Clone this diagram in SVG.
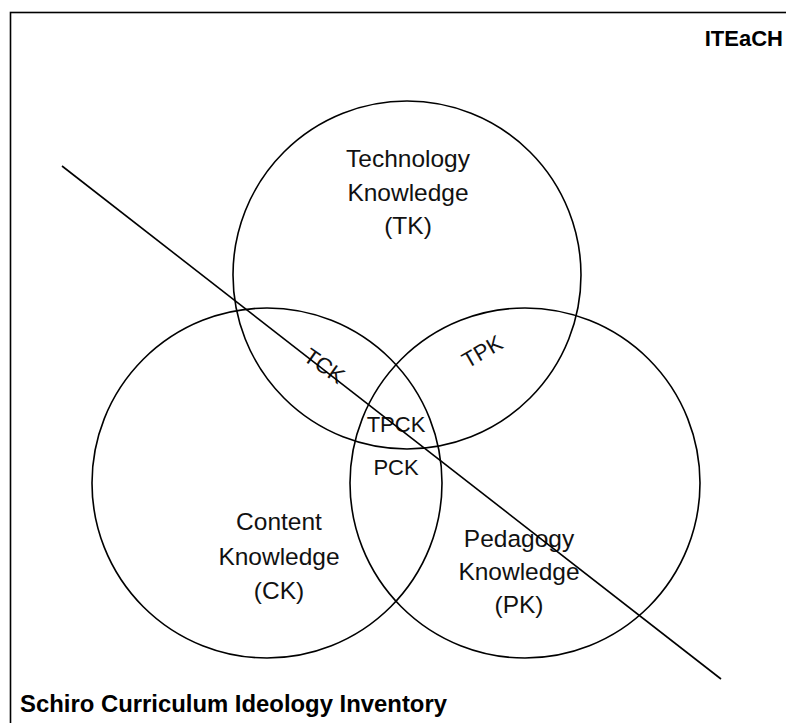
<svg xmlns="http://www.w3.org/2000/svg" width="786" height="723" viewBox="0 0 786 723">
<style>
.c{fill:none;stroke:#000;stroke-width:1.6}
.t{font-family:"Liberation Sans",Arial,sans-serif;font-size:24.5px;fill:#111;text-anchor:middle}
.s{font-family:"Liberation Sans",Arial,sans-serif;font-size:22px;fill:#111;text-anchor:middle}
.b{font-family:"Liberation Sans",Arial,sans-serif;font-weight:bold;fill:#000}
</style>
<rect x="10.5" y="12.5" width="800" height="740" fill="#fff" stroke="#000" stroke-width="1.6"/>
<g id="tk"><circle class="c" cx="407" cy="275" r="174"/>
<text class="t" x="408" y="167">Technology</text><text class="t" x="408" y="201">Knowledge</text><text class="t" x="408" y="234">(TK)</text></g>
<g id="ck"><circle class="c" cx="267" cy="483" r="175"/>
<text class="t" x="279" y="530">Content</text><text class="t" x="279" y="565">Knowledge</text><text class="t" x="279" y="599">(CK)</text></g>
<g id="pk"><circle class="c" cx="525" cy="483" r="175"/>
<text class="t" x="519" y="547">Pedagogy</text><text class="t" x="519" y="580">Knowledge</text><text class="t" x="519" y="613">(PK)</text></g>
<g id="tck"><text class="s" transform="translate(320,372) rotate(35)">TCK</text></g>
<g id="tpk"><text class="s" transform="translate(486,358) rotate(-30)">TPK</text></g>
<g id="tpck"><text class="s" x="396" y="432">TPCK</text></g>
<g id="pck"><text class="s" x="396" y="475">PCK</text></g>
<g id="connectors"><line x1="62" y1="166" x2="721" y2="679" stroke="#000" stroke-width="1.6"/></g>
<text class="b" x="783" y="46" font-size="22" text-anchor="end">ITEaCH</text>
<text class="b" x="20" y="712" font-size="24" textLength="427" lengthAdjust="spacingAndGlyphs">Schiro Curriculum Ideology Inventory</text>
</svg>
